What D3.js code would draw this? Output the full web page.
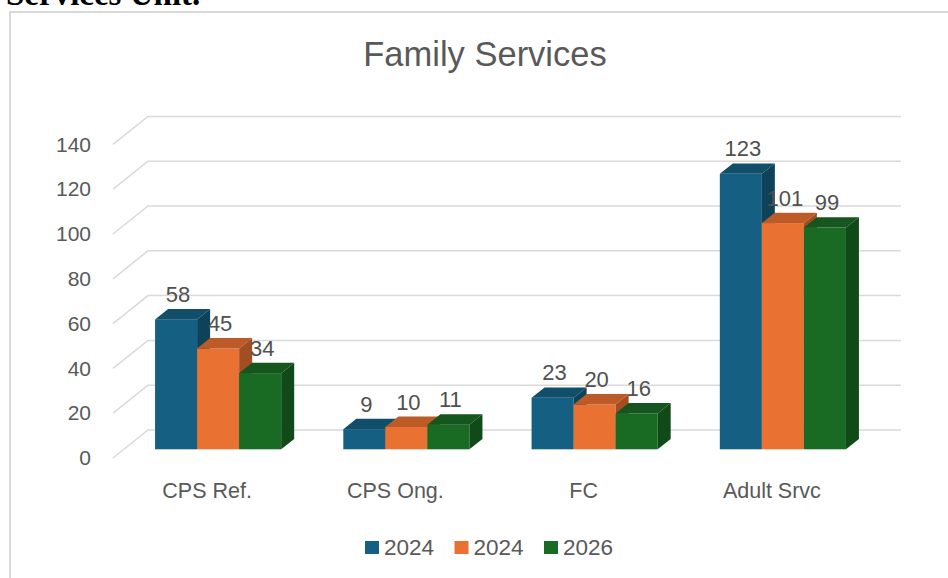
<!DOCTYPE html>
<html>
<head>
<meta charset="utf-8">
<script src="https://cdn.jsdelivr.net/npm/d3@7"></script>
<style>
  body { margin: 0; background: #fff; }
  svg { display: block; }
</style>
</head>
<body>
<div id="wrapper"></div>
<script>
// chart data
const categories = ["CPS Ref.", "CPS Ong.", "FC", "Adult Srvc"]
const seriesNames = ["2024", "2024", "2026"]
const values2024a = [58, 9, 23, 123]
const values2024b = [45, 10, 20, 101]
const values2026 = [34, 11, 16, 99]
const seriesColors = ["#156082", "#e97132", "#196b24"]
const yTicks = [0, 20, 40, 60, 80, 100, 120, 140]

async function drawBarChart3D() {

  // 1. Access data
  const seriesValues = [values2024a, values2024b, values2026]
  const dataset = seriesNames.map((name, i) => ({
    name: name,
    color: seriesColors[i],
    values: categories.map((c, j) => ({ category: c, value: seriesValues[i][j] })),
  }))

  // 2. Create chart dimensions
  let dimensions = {
    width: 948,
    height: 578,
    plotLeft: 113,
    plotRight: 866,
    floorY: 458,
    topY: 144.4,
  }
  // depth of the back wall, offset of the bars into the box, bar thickness
  const wall = { dx: 35, dy: -28 }
  const barOff = { dx: 11, dy: -8.7 }
  const barDepth = { dx: 13, dy: -10.4 }

  // 3. Draw canvas
  const wrapper = d3.select("#wrapper")
    .append("svg")
      .attr("width", dimensions.width)
      .attr("height", dimensions.height)

  // heading of the page above the chart (cut off at the top, like the source)
  wrapper.append("text")
    .attr("x", 6)
    .attr("y", 5)
    .style("font-family", "'Liberation Serif', 'DejaVu Serif', serif")
    .style("font-weight", "bold")
    .style("font-size", "33px")
    .attr("fill", "#000")
    .text("Services Unit.")

  // chart frame
  wrapper.append("rect")
    .attr("x", 10)
    .attr("y", 12)
    .attr("width", 1000)
    .attr("height", 1000)
    .attr("fill", "#fff")
    .attr("stroke", "#d9d9d9")
    .attr("stroke-width", 2)

  const bounds = wrapper.append("g")
    .style("font-family", "'Liberation Sans', Arial, sans-serif")

  // 4. Create scales
  const xScale = d3.scaleBand()
    .domain(categories)
    .range([dimensions.plotLeft, dimensions.plotRight])
    .paddingInner(0.33)
    .paddingOuter(0.165)

  const xInner = d3.scaleBand()
    .domain(d3.range(seriesNames.length))
    .range([0, xScale.bandwidth()])

  const yScale = d3.scaleLinear()
    .domain([0, 140])
    .range([dimensions.floorY, dimensions.topY])

  // 5. Draw gridlines (floor diagonal + back wall)
  const gridGroup = bounds.append("g")
  gridGroup.selectAll("path")
    .data(yTicks)
    .join("path")
      .attr("d", t => {
        const y = yScale(t)
        return `M${dimensions.plotLeft},${y}L${dimensions.plotLeft + wall.dx},${y + wall.dy}L${dimensions.plotRight + wall.dx},${y + wall.dy}`
      })
      .attr("fill", "none")
      .attr("stroke", "#d9d9d9")
      .attr("stroke-width", 1.5)

  // 6. Draw data
  const barsGroup = bounds.append("g")
  const w = xInner.bandwidth()

  categories.forEach(c => {
    dataset.forEach((s, i) => {
      const d = s.values.find(v => v.category == c)
      const x0 = xScale(c) + xInner(i) + barOff.dx
      const x1 = x0 + w
      const yTop = yScale(d.value) + barOff.dy
      const yBot = yScale(0) + barOff.dy
      const base = d3.color(s.color)

      const g = barsGroup.append("g")
      g.append("rect")
        .attr("x", x0)
        .attr("y", yTop)
        .attr("width", w)
        .attr("height", yBot - yTop)
        .attr("fill", s.color)
      g.append("path")
        .attr("d", `M${x0},${yTop}L${x1},${yTop}L${x1 + barDepth.dx},${yTop + barDepth.dy}L${x0 + barDepth.dx},${yTop + barDepth.dy}Z`)
        .attr("fill", base.darker(0.6))
      g.append("path")
        .attr("d", `M${x1},${yTop}L${x1 + barDepth.dx},${yTop + barDepth.dy}L${x1 + barDepth.dx},${yBot + barDepth.dy}L${x1},${yBot}Z`)
        .attr("fill", base.darker(1.05))
    })
  })

  // data labels on top of everything
  const labelGroup = bounds.append("g")
  dataset.forEach((s, i) => {
    labelGroup.selectAll(null)
      .data(s.values)
      .join("text")
        .attr("x", d => xScale(d.category) + xInner(i) + barOff.dx + w / 2 + 2)
        .attr("y", d => yScale(d.value) + barOff.dy + barDepth.dy - 7)
        .attr("text-anchor", "middle")
        .style("font-size", "22px")
        .attr("fill", "#505050")
        .text(d => d.value)
  })

  // 7. Draw peripherals
  const yAxisGenerator = d3.axisLeft()
    .scale(yScale)
    .tickValues(yTicks)
    .tickSize(0)
    .tickPadding(0)

  const yAxis = bounds.append("g")
    .attr("transform", `translate(91,0)`)
    .call(yAxisGenerator)
  yAxis.select(".domain").remove()
  yAxis.selectAll("text")
    .style("font-size", "21px")
    .style("font-family", "'Liberation Sans', Arial, sans-serif")
    .attr("fill", "#595959")

  const xAxisGenerator = d3.axisBottom()
    .scale(xScale)
    .tickSize(0)
    .tickPadding(0)

  const xAxis = bounds.append("g")
    .attr("transform", `translate(0,482)`)
    .call(xAxisGenerator)
  xAxis.select(".domain").remove()
  xAxis.selectAll("text")
    .attr("dy", "0.75em")
    .style("font-size", "21.5px")
    .style("font-family", "'Liberation Sans', Arial, sans-serif")
    .attr("fill", "#595959")

  // title
  bounds.append("text")
    .attr("x", 485)
    .attr("y", 66)
    .attr("text-anchor", "middle")
    .style("font-size", "34.5px")
    .attr("fill", "#595959")
    .text("Family Services")

  // legend
  const legendGroup = bounds.append("g")
    .attr("transform", "translate(365,541)")
  const legendItems = legendGroup.selectAll("g")
    .data(dataset)
    .join("g")
      .attr("transform", (d, i) => `translate(${i * 89.5},0)`)
  legendItems.append("rect")
    .attr("width", 14)
    .attr("height", 13)
    .attr("fill", d => d.color)
  legendItems.append("text")
    .attr("x", 19)
    .attr("y", 14)
    .style("font-size", "22.5px")
    .attr("fill", "#595959")
    .text(d => d.name)
}
drawBarChart3D()
</script>
</body>
</html>
